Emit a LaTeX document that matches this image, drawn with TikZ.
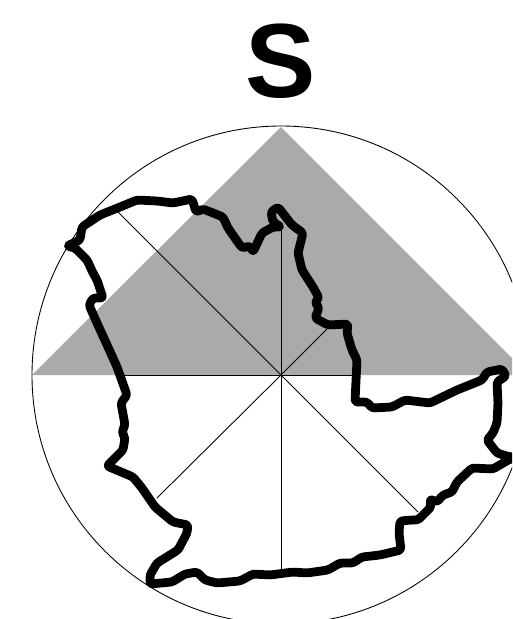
\documentclass[tikz,border=0pt]{standalone}
\usepackage{fontspec}
\setmainfont{Liberation Sans}
\usetikzlibrary{positioning}
\definecolor{mgray}{rgb}{0.667, 0.667, 0.667}
\tikzset{thin line/.style = {black, line width=0.5pt}}
\tikzset{outline/.style = {black, line width=5pt, line join=round, line cap=round, rounded corners=1.5pt}}
\begin{document}
\begin{tikzpicture}[x=0.02cm,y=-0.02cm]
      \useasboundingbox (0,0) rectangle (512,619);
      \clip (0,0) rectangle (512,619);
      \coordinate (c) at (281,375);
      \node[inner sep=0, font=\fontsize{60}{60}\selectfont\bfseries] (title) at (281,61) {S};
      \fill[mgray] (32,375) -- (281,127) -- (529,375) -- cycle;
      \draw[thin line] (c) circle (249);
      \foreach \x/\y in {281/228,118/212,120/375,157/498,281/571,418/512,355/375,328/328}
        \draw[thin line] (c) -- (\x,\y);
      \draw[outline]
        (67,246) -- (80,240) -- (82,227) -- (100,215) -- (120,207) -- (137,200)
        -- (157,201) -- (173,203) -- (192,199) -- (196,212) -- (203,209) -- (223,217)
        -- (228,228) -- (242,248) -- (250,246) -- (253,252) -- (262,233) -- (273,227)
        -- (281,227) -- (273,222) -- (271,212) -- (278,207) -- (292,225) -- (303,233)
        -- (298,253) -- (302,270) -- (313,287) -- (319,298) -- (315,302) -- (319,308)
        -- (315,318) -- (328,325) -- (348,324) -- (347,333) -- (352,350) -- (357,360)
        -- (355,402) -- (367,402) -- (372,408) -- (392,407) -- (405,400) -- (430,403)
        -- (457,390) -- (482,380) -- (487,372) -- (502,369) -- (506,376) -- (497,382)
        -- (498,403) -- (497,423) -- (493,433) -- (487,440) -- (497,453) -- (510,457)
        -- (510,459) -- (493,469) -- (472,468) -- (457,482) -- (452,492) -- (443,495)
        -- (437,502) -- (430,499) -- (431,507) -- (418,520) -- (412,520) -- (400,521)
        -- (399,533) -- (401,550) -- (380,555) -- (362,557) -- (353,563) -- (340,563)
        -- (328,570) -- (307,573) -- (293,572) -- (270,575) -- (253,574) -- (240,581)
        -- (217,583) -- (205,580) -- (197,572) -- (185,574) -- (172,582) -- (150,584)
        -- (150,575) -- (157,563) -- (178,550) -- (187,533) -- (188,525) -- (173,522)
        -- (155,507) -- (142,488) -- (133,477) -- (107,466) -- (123,450) -- (125,438)
        -- (122,432) -- (125,425) -- (121,403) -- (127,395) -- (117,367) -- (108,347)
        -- (97,323) -- (89,305) -- (93,298) -- (103,298) -- (97,280) -- (93,273)
        -- (87,260) -- (75,248) -- cycle;
    \end{tikzpicture}
\end{document}
